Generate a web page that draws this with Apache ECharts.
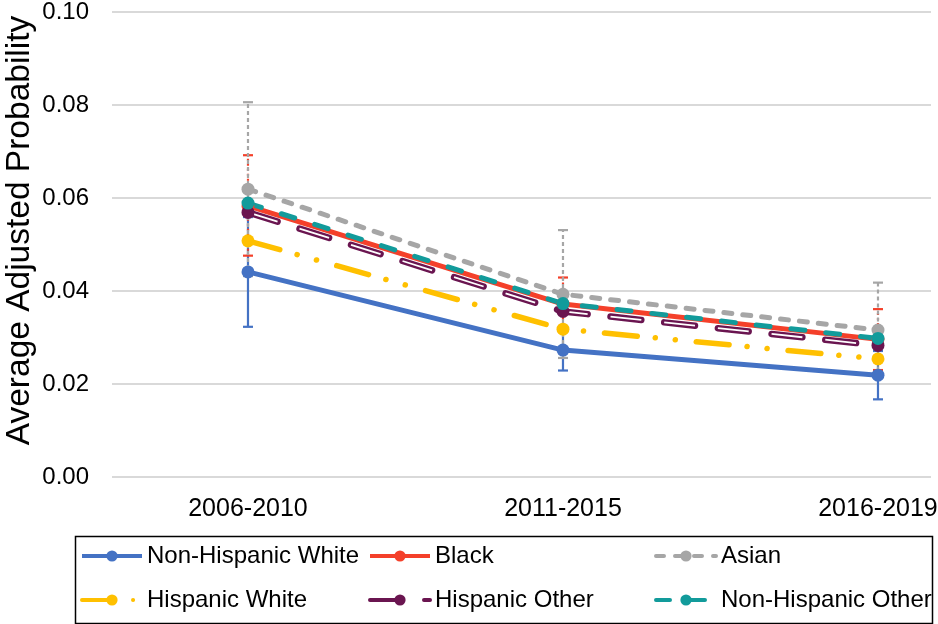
<!DOCTYPE html>
<html>
<head>
<meta charset="utf-8">
<script src="https://cdn.jsdelivr.net/npm/echarts@6/dist/echarts.min.js"></script>
<style>
html,body{margin:0;padding:0;background:#fff;}
#chart{width:938px;height:624px;}
</style>
</head>
<body>
<div id="chart"></div>
<script>
// ---- data ----
var categories = ['2006-2010', '2011-2015', '2016-2019'];
var yTicks = [0, 0.02, 0.04, 0.06, 0.08, 0.10];

var nonHispanicWhite = [0.0441, 0.0273, 0.0219];
var black            = [0.0583, 0.0372, 0.0296];
var asian            = [0.0619, 0.0393, 0.0316];
var hispanicWhite    = [0.0508, 0.0318, 0.0254];
var hispanicOther    = [0.0569, 0.0356, 0.0283];
var nonHispanicOther = [0.0589, 0.0373, 0.0298];

var nhwLow   = [0.0323, 0.0229, 0.0167];
var nhwHigh  = [0.0559, 0.0317, 0.0271];
var blackLow = [0.0476, 0.0317, 0.0230];
var blackHigh= [0.0692, 0.0429, 0.0361];
var asianLow = [0.0432, 0.0256, 0.0214];
var asianHigh= [0.0806, 0.0531, 0.0418];

// ---- chart ----
function pts(arr){ return arr.map(function(v,i){ return [i, v]; }); }
function errData(lo, hi){ return lo.map(function(v,i){ return [i, v, hi[i]]; }); }

function errSeries(lo, hi, color, dash){
  return {
    type: 'custom',
    z: 1,
    silent: true,
    data: errData(lo, hi),
    encode: {x: 0, y: [1, 2]},
    renderItem: function(params, api){
      var x = api.value(0);
      var a = api.coord([x, api.value(1)]);
      var b = api.coord([x, api.value(2)]);
      var hw = 5;
      var st = {stroke: color, lineWidth: 2.2, lineDash: dash};
      var capSt = {stroke: color, lineWidth: 2.2};
      return {type: 'group', children: [
        {type: 'line', shape: {x1: a[0], y1: a[1], x2: b[0], y2: b[1]}, style: st},
        {type: 'line', shape: {x1: a[0]-hw, y1: a[1], x2: a[0]+hw, y2: a[1]}, style: capSt},
        {type: 'line', shape: {x1: b[0]-hw, y1: b[1], x2: b[0]+hw, y2: b[1]}, style: capSt}
      ]};
    }
  };
}

var FONT = '"Liberation Sans", Arial, sans-serif';
var C_BLUE = '#4472C4', C_RED = '#F4402A', C_GRAY = '#A6A6A6',
    C_GOLD = '#FFC000', C_PURPLE = '#6A1550', C_TEAL = '#129B9B';

var chart = echarts.init(document.getElementById('chart'), null, {renderer: 'canvas'});

var legendBase = {
  orient: 'vertical',
  top: 539,
  itemWidth: 60,
  itemHeight: 14,
  itemGap: 20,
  textStyle: {fontFamily: FONT, fontSize: 24, color: '#000'},
  lineStyle: {width: 4},
  selectedMode: false
};

var option = {
  animation: false,
  backgroundColor: '#fff',
  grid: {left: 112, right: 7, top: 12, bottom: 147, containLabel: false, outerBoundsMode: 'none'},
  xAxis: {
    type: 'value',
    min: -0.4317,
    max: 2.1683,
    axisLine: {show: false},
    axisTick: {show: false},
    splitLine: {show: false},
    axisLabel: {
      customValues: [0, 1, 2],
      formatter: function(v){ return categories[Math.round(v)]; },
      fontFamily: FONT, fontSize: 25, color: '#000', margin: 20
    }
  },
  yAxis: {
    type: 'value',
    min: yTicks[0],
    max: yTicks[yTicks.length-1],
    interval: 0.02,
    name: 'Average Adjusted Probability',
    nameLocation: 'middle',
    nameGap: 75,
    nameMoveOverlap: false,
    nameTextStyle: {fontFamily: FONT, fontSize: 33.5, color: '#000', padding: [0, 0, 0, 28]},
    axisLine: {show: false},
    axisTick: {show: false},
    splitLine: {lineStyle: {color: '#D9D9D9', width: 2}},
    axisLabel: {
      formatter: function(v){ return v.toFixed(2); },
      fontFamily: FONT, fontSize: 24, color: '#000', margin: 23
    }
  },
  legend: [
    Object.assign({}, legendBase, {left: 75, data: ['Non-Hispanic White', 'Hispanic White']}),
    Object.assign({}, legendBase, {left: 363, data: ['Black', 'Hispanic Other']}),
    Object.assign({}, legendBase, {left: 649, data: ['Asian', 'Non-Hispanic Other']})
  ],
  graphic: [{
    type: 'rect', left: 73, top: 534,
    shape: {width: 857, height: 87},
    style: {fill: 'none', stroke: '#000', lineWidth: 1.5}
  }],
  series: [
    errSeries(nhwLow, nhwHigh, C_BLUE, null),
    errSeries(blackLow, blackHigh, C_RED, [2, 3]),
    errSeries(asianLow, asianHigh, C_GRAY, [4, 3]),
    {
      name: 'Non-Hispanic White', type: 'line', data: pts(nonHispanicWhite),
      symbol: 'circle', symbolSize: 13, z: 2,
      lineStyle: {color: C_BLUE, width: 5},
      itemStyle: {color: C_BLUE}
    },
    {
      name: 'Black', type: 'line', data: pts(black),
      symbol: 'circle', symbolSize: 13, z: 2,
      lineStyle: {color: C_RED, width: 5},
      itemStyle: {color: C_RED}
    },
    {
      name: 'Asian', type: 'line', data: pts(asian),
      symbol: 'circle', symbolSize: 13, z: 2,
      lineStyle: {color: C_GRAY, width: 5, type: [8, 11], cap: 'round'},
      itemStyle: {color: C_GRAY}
    },
    {
      name: 'Hispanic White', type: 'line', data: pts(hispanicWhite),
      symbol: 'circle', symbolSize: 13, z: 2,
      lineStyle: {color: C_GOLD, width: 5.5, type: [33, 18, 0.1, 20, 0.1, 21], cap: 'round'},
      itemStyle: {color: C_GOLD}
    },
    {
      name: 'Hispanic Other', type: 'line', data: pts(hispanicOther),
      symbol: 'circle', symbolSize: 13, z: 2,
      lineStyle: {color: C_PURPLE, width: 6.5, type: [31, 23], cap: 'round'},
      itemStyle: {color: C_PURPLE}
    },
    {
      name: 'Hispanic Other', type: 'line', data: pts(hispanicOther),
      symbol: 'none', z: 2, silent: true,
      lineStyle: {color: '#fff', width: 1.8, type: [31, 23], cap: 'butt'}
    },
    {
      name: 'Non-Hispanic Other', type: 'line', data: pts(nonHispanicOther),
      symbol: 'circle', symbolSize: 13, z: 2,
      lineStyle: {color: C_TEAL, width: 5, type: [14, 21], cap: 'round'},
      itemStyle: {color: C_TEAL}
    }
  ]
};
chart.setOption(option);
</script>
</body>
</html>
